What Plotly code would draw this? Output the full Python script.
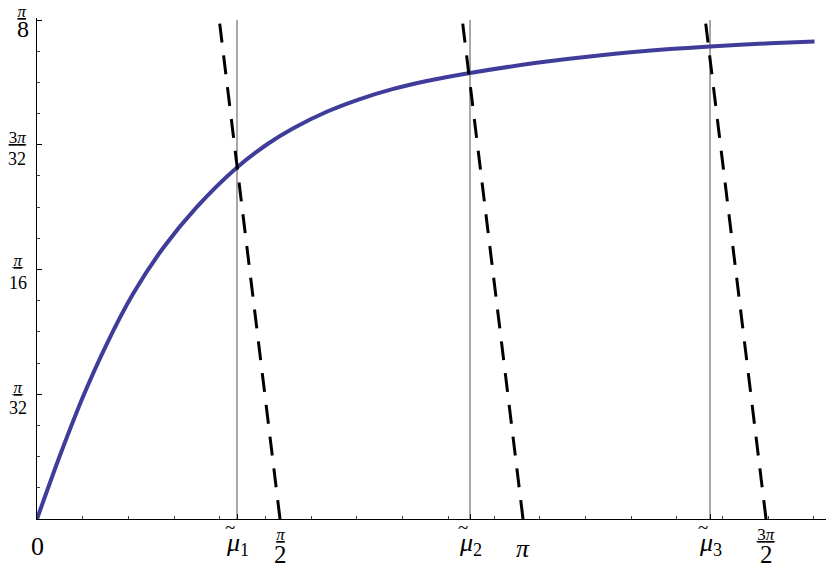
import math
import plotly.graph_objects as go

# ---- data ----
CURVE_X = [0.0, 0.15, 0.30, 0.45, 0.62, 0.8164, 1.0323, 1.2909, 1.4952, 1.6568,
           1.8727, 2.0879, 2.3032, 2.5191, 2.799, 3.2301, 3.6607, 4.0918, 4.3504, 4.7382, 5.0259]
CURVE_Y = [0.0, 0.0505, 0.0970, 0.1375, 0.1770, 0.2135, 0.2455, 0.2765, 0.2955, 0.3075,
           0.3205, 0.3305, 0.3385, 0.3447, 0.3510, 0.3590, 0.3652, 0.3698, 0.3719, 0.3744, 0.3758]

MU_TILDE = [1.2928, 2.799, 4.3504]                     # intersections (gray verticals)
DASH_ROOTS = [math.pi / 2, math.pi, 3 * math.pi / 2]   # dashed lines y = r - x

Y_TICKS = [math.pi / 32, math.pi / 16, 3 * math.pi / 32, math.pi / 8]
Y_NUM = ["π", "π", "3π", "π"]
Y_DEN = ["32", "16", "32", "8"]

X_FRAC_TICKS = [math.pi / 2, 3 * math.pi / 2]
X_FRAC_NUM = ["π", "3π"]
X_FRAC_DEN = ["2", "2"]
MU_SUBS = ["1", "2", "3"]

X_MAX = 5.1
Y_MAX = math.pi / 8 * 1.004
FONT = "Liberation Serif"


def ital_pi(s):
    return s.replace("π", "<i>π</i>")


def pad(px):
    return f"<span style='font-size:{px}px'>&nbsp;</span>"


fig = go.Figure()

for m in MU_TILDE:
    fig.add_trace(go.Scatter(x=[m, m], y=[0, math.pi / 8], mode="lines",
                             line=dict(color="#8c8c8c", width=1.5),
                             hoverinfo="skip", showlegend=False))

fig.add_trace(go.Scatter(x=CURVE_X, y=CURVE_Y, mode="lines",
                         line=dict(color="#3f3d99", width=4, shape="spline", smoothing=0.8),
                         showlegend=False))

for r in DASH_ROOTS:
    fig.add_trace(go.Scatter(x=[r, r - Y_MAX], y=[0, Y_MAX], mode="lines",
                             line=dict(color="black", width=3, dash="19px,13px"),
                             hoverinfo="skip", showlegend=False))

ann = []


def add(text, x, y, xref, yref, size, xshift=0, yshift=0):
    ann.append(dict(x=x, y=y, xref=xref, yref=yref, text=text, showarrow=False,
                    xanchor="center", yanchor="middle", xshift=xshift, yshift=yshift,
                    font=dict(family=FONT, size=size, color="black")))


# y-axis fraction labels
Y_NUM_PAD = [6, 6, 3, 2]
Y_NUM_SHIFT = [7, 9, 7, 9]
Y_DEN_SHIFT = [-14, -13, -14, -9]
Y_DEN_SIZE = [18, 18, 18, 24]
Y_XSHIFT = [-19, -19, -20, -15]
for i, v in enumerate(Y_TICKS):
    p = pad(Y_NUM_PAD[i])
    add(f"<u>{p}{ital_pi(Y_NUM[i])}{p}</u>", 0, v, "paper", "y", 17,
        xshift=Y_XSHIFT[i], yshift=Y_NUM_SHIFT[i])
    add(Y_DEN[i], 0, v, "paper", "y", Y_DEN_SIZE[i],
        xshift=Y_XSHIFT[i] + (1 if i == 3 else 0), yshift=Y_DEN_SHIFT[i])

# x-axis labels
add("0", 0, 0, "x", "y", 26, yshift=-27)
for m, s in zip(MU_TILDE, MU_SUBS):
    add("~", m, 0, "x", "y", 19, xshift=-7, yshift=-8)
    add(f"<i>μ</i><sub>{s}</sub>", m, 0, "x", "y", 26, yshift=-25)
add("<i>π</i>", math.pi, 0, "x", "y", 26, yshift=-29)
X_NUM_PAD = [1, 5]
for v, n, d, pp in zip(X_FRAC_TICKS, X_FRAC_NUM, X_FRAC_DEN, X_NUM_PAD):
    p = pad(pp)
    add(f"<u>{p}{ital_pi(n)}{p}</u>", v, 0, "x", "y", 17, yshift=-15)
    add(d, v, 0, "x", "y", 25, yshift=-35)

fig.update_layout(
    width=830, height=565,
    margin=dict(l=37, r=4, t=18, b=46),
    paper_bgcolor="white", plot_bgcolor="white",
    annotations=ann,
    xaxis=dict(range=[0, X_MAX], showgrid=False, zeroline=False,
               showline=True, linecolor="black", linewidth=1.3,
               tickmode="array", tickvals=[0.0] + MU_TILDE + X_FRAC_TICKS + [math.pi],
               ticks="inside", ticklen=5, tickcolor="black", showticklabels=False,
               minor=dict(dtick=0.2954, tick0=0, ticks="inside", ticklen=3,
                          tickcolor="#444", showgrid=False)),
    yaxis=dict(range=[0, Y_MAX], showgrid=False, zeroline=False,
               showline=True, linecolor="black", linewidth=1.3,
               tickmode="array", tickvals=Y_TICKS, ticks="inside", ticklen=5,
               tickcolor="black", showticklabels=False,
               minor=dict(dtick=math.pi / 128, tick0=0, ticks="inside", ticklen=3,
                          tickcolor="#444", showgrid=False)),
)

fig.write_html("out.html", config={"displayModeBar": False},
               post_script="document.body.style.margin='0';document.body.style.overflow='hidden';")
